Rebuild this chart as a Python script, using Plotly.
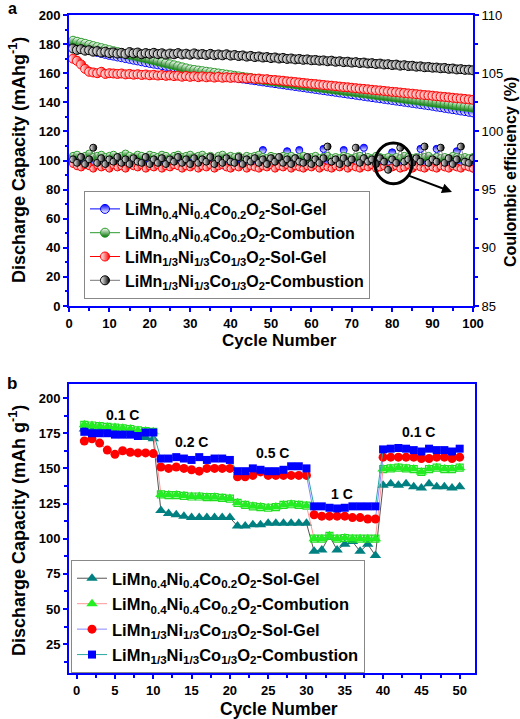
import plotly.graph_objects as go

# ---------------- data: panel a (cycling, 100 cycles) ----------------
cycles_a = list(range(1, 101))

cap_solgel_04 = [
    178.0, 177.5, 176.9, 176.4, 175.9, 175.2, 174.6, 174.0, 173.3, 172.6,
    172.1, 171.5, 171.0, 170.4, 169.9, 169.3, 168.8, 168.2, 167.6, 167.1,
    166.6, 166.1, 165.6, 165.1, 164.6, 164.1, 163.6, 163.1, 162.6, 162.1,
    161.6, 161.2, 160.7, 160.3, 159.8, 159.4, 158.9, 158.5, 158.0, 157.6,
    157.2, 156.8, 156.4, 156.0, 155.6, 155.2, 154.8, 154.4, 154.0, 153.6,
    153.2, 152.8, 152.4, 152.0, 151.6, 151.2, 150.8, 150.4, 150.0, 149.6,
    149.2, 148.8, 148.4, 148.0, 147.6, 147.2, 146.8, 146.4, 146.0, 145.6,
    145.2, 144.8, 144.4, 144.0, 143.6, 143.2, 142.8, 142.4, 142.0, 141.6,
    141.2, 140.8, 140.4, 140.0, 139.6, 139.2, 138.8, 138.4, 138.0, 137.6,
    137.1, 136.7, 136.2, 135.8, 135.3, 134.9, 134.4, 134.0, 133.5, 133.1]

cap_comb_04 = [
    182.3, 181.6, 180.9, 180.2, 179.4, 178.6, 177.9, 177.2, 176.5, 175.8,
    175.1, 174.5, 173.9, 173.3, 172.7, 172.1, 171.4, 170.8, 170.2, 169.6,
    168.9, 168.2, 167.5, 166.8, 166.1, 165.4, 164.7, 164.0, 163.3, 162.6,
    162.2, 161.8, 161.4, 161.0, 160.6, 160.2, 159.8, 159.4, 159.0, 158.6,
    158.2, 157.8, 157.4, 157.0, 156.6, 156.2, 155.8, 155.4, 155.0, 154.6,
    154.2, 153.9, 153.5, 153.1, 152.8, 152.4, 152.0, 151.7, 151.3, 150.9,
    150.6, 150.2, 149.8, 149.5, 149.1, 148.7, 148.4, 148.0, 147.6, 147.3,
    146.9, 146.5, 146.2, 145.8, 145.4, 145.1, 144.7, 144.3, 144.0, 143.6,
    143.2, 142.9, 142.5, 142.1, 141.8, 141.4, 141.0, 140.7, 140.3, 139.9,
    139.6, 139.2, 138.8, 138.5, 138.1, 137.7, 137.4, 137.0, 136.7, 136.3]

cap_solgel_13 = [
    170.0, 168.5, 166.0, 163.0, 161.0, 160.5, 160.0, 161.0, 159.5, 160.0,
    159.8, 159.5, 159.8, 159.2, 159.5, 159.0, 159.3, 158.8, 159.1, 158.6,
    158.9, 158.4, 158.7, 158.2, 158.5, 158.0, 158.3, 157.6, 158.1, 157.5,
    157.9, 157.3, 157.8, 157.2, 157.6, 157.0, 157.5, 156.9, 157.2, 156.8,
    157.1, 156.6, 156.9, 156.4, 156.6, 156.1, 156.3, 155.8, 155.9, 155.4,
    155.3, 155.0, 154.8, 154.4, 154.2, 153.9, 153.6, 153.3, 153.0, 152.7,
    152.5, 152.2, 151.9, 151.6, 151.4, 151.1, 150.8, 150.5, 150.3, 150.0,
    149.7, 149.4, 149.2, 148.9, 148.6, 148.3, 148.1, 147.8, 147.5, 147.2,
    147.0, 146.7, 146.4, 146.1, 145.9, 145.6, 145.3, 145.0, 144.8, 144.5,
    144.2, 143.9, 143.7, 143.4, 143.1, 142.8, 142.6, 142.3, 142.0, 141.7]

cap_comb_13 = [
    177.0, 176.0, 176.5, 175.5, 175.8, 174.8, 175.2, 174.2, 174.8, 173.8,
    174.3, 173.5, 174.0, 173.2, 174.5, 173.6, 174.2, 173.0, 173.8, 173.3,
    174.0, 173.1, 173.7, 172.8, 173.5, 173.0, 173.8, 172.9, 173.4, 172.7,
    173.6, 172.8, 173.2, 172.5, 173.3, 172.4, 172.9, 172.3, 173.0, 172.1,
    172.5, 171.8, 172.2, 171.4, 171.9, 171.1, 171.5, 170.8, 171.1, 170.4,
    170.8, 170.1, 170.5, 169.8, 170.1, 169.5, 169.8, 169.2, 169.5, 168.9,
    169.1, 168.6, 168.8, 168.2, 168.6, 167.9, 168.2, 167.6, 167.9, 167.3,
    167.6, 167.0, 167.3, 166.7, 166.9, 166.3, 166.6, 166.0, 166.2, 165.6,
    165.9, 165.2, 165.5, 164.9, 165.1, 164.5, 164.7, 164.1, 164.3, 163.8,
    163.9, 163.4, 163.6, 163.0, 163.2, 162.6, 162.8, 162.3, 162.4, 162.0]

ce_solgel_04 = [
    97.3, 97.5, 97.2, 97.4, 97.6, 97.3, 97.1, 97.4, 97.2, 97.5,
    97.3, 97.2, 97.5, 97.3, 97.1, 97.4, 97.6, 97.3, 97.2, 97.4,
    97.2, 97.5, 97.3, 97.2, 97.4, 97.6, 97.3, 97.1, 97.4, 97.3,
    97.5, 97.2, 97.3, 97.4, 97.2, 97.5, 97.3, 97.1, 97.4, 97.6,
    97.3, 97.2, 97.4, 97.3, 97.5, 97.2, 97.3, 98.4, 97.3, 97.2,
    97.4, 97.3, 97.2, 98.3, 97.4, 97.2, 98.4, 97.3, 97.2, 97.4,
    97.3, 97.2, 98.5, 97.3, 97.4, 97.2, 97.3, 98.4, 97.2, 97.3,
    97.4, 97.2, 98.6, 97.3, 97.2, 97.4, 97.3, 97.2, 97.4, 98.2,
    97.3, 97.2, 97.4, 97.3, 97.2, 97.4, 98.5, 97.3, 97.2, 97.4,
    98.5, 97.3, 97.2, 97.4, 97.3, 98.3, 97.2, 97.4, 97.3, 96.8]

ce_comb_04 = [
    97.9, 98.0, 97.8, 97.9, 98.1, 97.8, 97.9, 98.0, 97.8, 97.9,
    98.0, 97.8, 97.9, 98.1, 97.9, 97.8, 98.0, 97.9, 97.8, 98.0,
    97.9, 97.8, 98.0, 97.9, 97.7, 97.9, 98.0, 97.8, 97.9, 98.0,
    97.8, 97.9, 98.0, 97.8, 97.9, 97.7, 97.9, 98.0, 97.8, 97.9,
    97.8, 97.9, 97.7, 97.9, 97.8, 97.9, 98.0, 97.8, 97.7, 97.9,
    97.8, 97.7, 97.9, 97.8, 97.9, 97.7, 97.8, 97.9, 97.7, 97.8,
    97.9, 97.7, 97.8, 97.9, 97.7, 97.8, 97.7, 97.9, 97.8, 97.7,
    97.8, 97.9, 97.7, 97.8, 97.7, 97.9, 97.8, 97.7, 97.8, 97.7,
    97.8, 97.7, 97.9, 97.8, 97.7, 97.8, 97.7, 97.8, 97.9, 97.7,
    97.8, 97.7, 97.8, 97.7, 97.9, 97.8, 97.7, 97.8, 97.7, 97.8]

ce_solgel_13 = [
    97.2, 97.0, 96.9, 97.1, 97.0, 96.8, 97.1, 96.9, 97.0, 96.8,
    97.1, 96.9, 97.0, 96.8, 97.1, 97.0, 96.9, 97.1, 96.8, 97.0,
    96.9, 97.1, 96.8, 97.0, 96.9, 97.1, 97.0, 96.8, 97.0, 96.9,
    97.1, 96.8, 97.0, 96.9, 97.1, 96.8, 97.0, 97.1, 96.9, 96.8,
    97.0, 96.9, 97.1, 96.8, 97.0, 96.9, 96.8, 97.0, 96.9, 97.1,
    96.8, 97.0, 96.9, 97.1, 96.8, 97.0, 96.9, 96.8, 97.0, 96.9,
    97.1, 96.8, 97.0, 96.9, 96.8, 97.0, 96.9, 97.1, 96.8, 97.0,
    96.9, 96.8, 97.0, 96.9, 97.1, 96.8, 96.9, 97.0, 96.8, 96.9,
    97.0, 96.8, 96.9, 97.1, 96.8, 97.0, 96.9, 96.8, 97.0, 96.9,
    96.8, 97.0, 96.9, 96.8, 97.0, 96.9, 96.8, 97.0, 96.9, 96.8]

ce_comb_13 = [
    97.6, 97.3, 97.8, 97.2, 97.6, 98.6, 97.3, 97.7, 97.2, 97.6,
    97.4, 97.8, 97.3, 97.6, 97.2, 97.7, 97.4, 97.3, 97.8, 97.2,
    97.6, 97.3, 97.7, 97.2, 97.6, 97.4, 97.8, 97.3, 97.6, 97.2,
    97.7, 97.3, 97.6, 97.4, 97.8, 97.2, 97.6, 97.3, 97.7, 97.4,
    97.3, 97.8, 97.2, 97.6, 97.4, 97.7, 97.3, 97.6, 97.2, 97.7,
    97.4, 97.8, 97.3, 97.6, 97.2, 97.7, 97.4, 97.3, 97.8, 97.2,
    97.6, 97.3, 97.7, 98.7, 97.4, 97.6, 97.2, 97.7, 97.3, 97.6,
    98.6, 97.3, 97.7, 97.4, 97.6, 97.2, 97.7, 97.4, 96.7, 97.6,
    97.3, 98.6, 97.4, 97.6, 97.3, 97.7, 97.4, 98.7, 97.3, 97.6,
    97.4, 98.6, 97.3, 97.7, 97.2, 97.6, 98.7, 97.4, 97.3, 97.7]

# ---------------- data: panel b (rate capability, 50 cycles) ----------------
cycles_b = list(range(1, 51))

rate_solgel_04 = [
    178, 177, 177, 176, 176, 175, 175, 174, 172, 171,
    120, 118, 117, 116, 115, 115, 115, 115, 115, 115,
    109, 109, 110, 110, 111, 111, 111, 111, 111, 111,
    91, 92, 102, 92, 96, 98, 91, 96, 88,
    138, 139, 138, 139, 137, 136, 139, 137, 137, 136, 137]

rate_comb_04 = [
    181, 180.5, 180, 179.5, 179, 178.5, 178, 177, 176.5, 176,
    131.5, 131, 131, 130.5, 130, 130, 129.5, 129.5, 129, 128.5,
    125.5, 124, 123, 122.5, 122, 122.5, 124, 124.5, 124, 123.5,
    100, 100, 102, 100, 100.5, 100, 100, 100, 100,
    149.5, 150, 150.5, 150, 149.5, 147.5, 149.5, 150.5, 149.5, 149.5, 150.5]

rate_solgel_13 = [
    169.5, 171, 168, 163, 160, 162.5, 161.5, 161, 161, 160.5,
    151, 150, 151, 150, 149, 148, 150, 150, 150, 150,
    144, 144, 145, 147.5, 145, 145, 145, 145, 145, 145,
    117, 116, 116, 116, 116, 115, 115, 114, 114,
    158, 158, 158, 158, 158, 157, 157, 158, 158, 157, 158]

rate_comb_13 = [
    176, 175, 175, 175, 174, 174, 174, 173, 175.5, 175.5,
    157, 157, 158, 157, 156, 158, 156, 157, 157, 156,
    148, 148, 150, 149, 148, 148, 149, 151.5, 151.5, 150,
    123, 123, 122, 121.5, 122, 123, 123, 123, 123,
    163.5, 164, 164.5, 164, 163, 162, 164, 163, 163, 162, 164]

rate_labels = ["0.1 C", "0.2 C", "0.5 C", "1 C", "0.1 C"]
rate_label_x = [6, 15, 25.6, 34.6, 44.6]
rate_label_y = [188, 169, 161, 132, 175.6]

names = [
    "LiMn<sub>0.4</sub>Ni<sub>0.4</sub>Co<sub>0.2</sub>O<sub>2</sub>-Sol-Gel",
    "LiMn<sub>0.4</sub>Ni<sub>0.4</sub>Co<sub>0.2</sub>O<sub>2</sub>-Combution",
    "LiMn<sub>1/3</sub>Ni<sub>1/3</sub>Co<sub>1/3</sub>O<sub>2</sub>-Sol-Gel",
    "LiMn<sub>1/3</sub>Ni<sub>1/3</sub>Co<sub>1/3</sub>O<sub>2</sub>-Combustion",
]

FONT = "Arial, Liberation Sans, sans-serif"
AX = "#0000ff"

fig = go.Figure()

# ---------------- panel a traces ----------------
top_styles = [
    dict(line="#0000ff", fill="#0000ff", gtype="vertical", gcol="#ffffff"),
    dict(line="#2a9a2a", fill="#ffffff", gtype="vertical", gcol="#007000"),
    dict(line="#ff0000", fill="#ffffff", gtype="horizontal", gcol="#ff0000"),
    dict(line="#000000", fill="#ffffff", gtype="horizontal", gcol="#000000"),
]
line_cols_a = ["#0000ff", "#2a9a2a", "#ff0000", "#777777"]
caps = [cap_solgel_04, cap_comb_04, cap_solgel_13, cap_comb_13]
ces = [ce_solgel_04, ce_comb_04, ce_solgel_13, ce_comb_13]

for i in range(4):
    st = top_styles[i]
    mk = dict(symbol="circle", size=9, color=st["fill"],
              gradient=dict(type=st["gtype"], color=st["gcol"]),
              line=dict(color=st["line"], width=1))
    fig.add_trace(go.Scatter(
        x=cycles_a, y=caps[i], mode="lines+markers", name=names[i],
        marker=mk, line=dict(color=line_cols_a[i], width=1),
        xaxis="x", yaxis="y", legend="legend", legendgroup="a%d" % i))
for i in range(4):
    st = top_styles[i]
    mk = dict(symbol="circle", size=7, color=st["fill"],
              gradient=dict(type=st["gtype"], color=st["gcol"]),
              line=dict(color=st["line"], width=1))
    fig.add_trace(go.Scatter(
        x=cycles_a, y=ces[i], mode="lines+markers", name=names[i],
        marker=mk, line=dict(color=line_cols_a[i], width=0.8),
        xaxis="x", yaxis="y2", showlegend=False))

# ---------------- panel b traces ----------------
fig.add_trace(go.Scatter(
    x=cycles_b, y=rate_solgel_04, mode="lines+markers", name=names[0],
    marker=dict(symbol="triangle-up", size=10, color="#008080"),
    line=dict(color="#555555", width=1),
    xaxis="x2", yaxis="y3", legend="legend2", legendgroup="b0"))
fig.add_trace(go.Scatter(
    x=cycles_b, y=rate_comb_04, mode="markers", name=names[1],
    marker=dict(symbol="square-open", size=7, color="#22dd22", line=dict(width=1.2)),
    xaxis="x2", yaxis="y3", showlegend=False))
fig.add_trace(go.Scatter(
    x=cycles_b, y=rate_comb_04, mode="lines+markers", name=names[1],
    marker=dict(symbol="triangle-up", size=10, color="#22ee22"),
    line=dict(color="#ff9999", width=1),
    xaxis="x2", yaxis="y3", legend="legend2", legendgroup="b1"))
fig.add_trace(go.Scatter(
    x=cycles_b, y=rate_solgel_13, mode="lines+markers", name=names[2],
    marker=dict(symbol="circle", size=9, color="#ff0000"),
    line=dict(color="#8888ff", width=1),
    xaxis="x2", yaxis="y3", legend="legend2", legendgroup="b2"))
fig.add_trace(go.Scatter(
    x=cycles_b, y=rate_comb_13, mode="lines+markers", name=names[3],
    marker=dict(symbol="square", size=8, color="#0000ff"),
    line=dict(color="#2aa8a0", width=1),
    xaxis="x2", yaxis="y3", legend="legend2", legendgroup="b3"))

# ---------------- axes ----------------
tick_bold = dict(family=FONT, size=13, color="black", weight="bold")
common = dict(showline=True, linecolor=AX, linewidth=2, ticks="outside",
              ticklen=4, tickwidth=1.5, tickcolor=AX, showgrid=False,
              zeroline=False, automargin=False)

fig.update_layout(
    width=520, height=719, margin=dict(l=0, r=0, t=0, b=0, autoexpand=False),
    paper_bgcolor="white", plot_bgcolor="white",
    font=dict(family=FONT, color="black"),
    xaxis=dict(domain=[69/520, 473/520], range=[0, 100], dtick=10, anchor="y",
               mirror=True, tickfont=tick_bold,
               minor=dict(dtick=5, ticks="outside", ticklen=2.5, tickcolor=AX, tickwidth=1.5),
               **common),
    yaxis=dict(domain=[1-306/719, 1-15/719], range=[0, 200], dtick=20, anchor="x",
               tickfont=tick_bold,
               minor=dict(dtick=10, ticks="outside", ticklen=2.5, tickcolor=AX, tickwidth=1.5),
               **common),
    yaxis2=dict(overlaying="y", side="right", anchor="x", range=[85, 110], dtick=5,
                tickfont=dict(family=FONT, size=13, color="black"),
                minor=dict(dtick=2.5, ticks="outside", ticklen=2.5, tickcolor=AX, tickwidth=1.5),
                **common),
    xaxis2=dict(domain=[69/520, 475/520], range=[-1, 52], dtick=5, tick0=0, anchor="y3",
                mirror=True, tickfont=tick_bold,
                minor=dict(dtick=2.5, ticks="outside", ticklen=3, tickcolor=AX, tickwidth=1.5),
                **common),
    yaxis3=dict(domain=[1-673/719, 1-384/719], range=[4.5, 210], dtick=25, tick0=0,
                anchor="x2", mirror=True, tickfont=tick_bold,
                minor=dict(dtick=12.5, ticks="outside", ticklen=3, tickcolor=AX, tickwidth=1.5),
                **common),
    legend=dict(x=84/520, y=1-191/719, xanchor="left", yanchor="top",
                bgcolor="white", bordercolor="#888888", borderwidth=1,
                font=dict(family=FONT, size=16, color="black", weight="bold"),
                tracegroupgap=0),
    legend2=dict(x=71/520, y=1-560/719, xanchor="left", yanchor="top",
                 bgcolor="white", bordercolor="#888888", borderwidth=1,
                 font=dict(family=FONT, size=16.5, color="black", weight="bold"),
                 tracegroupgap=1),
)

# ---------------- annotations ----------------
ann = []
def txt(x, y, s, size, angle=0, bold=True):
    ann.append(dict(x=x, y=y, xref="paper", yref="paper", text=s, showarrow=False,
                    textangle=angle, xanchor="center", yanchor="middle",
                    font=dict(family=FONT, size=size, color="black",
                              weight="bold" if bold else "normal")))

txt(12/520, 1-8/719, "a", 16)
txt(12/520, 1-383/719, "b", 17)
txt(17/520, 1-160/719, "Discharge Capacity (mAhg<sup>-1</sup>)", 18, -90)
txt(510/520, 1-172/719, "Coulombic efficiency (%)", 16, -90)
txt(279/520, 1-340/719, "Cycle Number", 17)
txt(279/520, 1-709/719, "Cycle Number", 17.5)
txt(17/520, 1-531/719, "Discharge Capacity (mAh g<sup>-1</sup>)", 18, -90)

for s, xv, yv in zip(rate_labels, rate_label_x, rate_label_y):
    ann.append(dict(x=xv, y=yv, xref="x2", yref="y3", text=s, showarrow=False,
                    font=dict(family=FONT, size=14, color="black", weight="bold")))

# arrow pointing out of the highlighted region
ann.append(dict(x=94.8, y=94.8, xref="x", yref="y2", ax=83.7, ay=96.25,
                axref="x", ayref="y2", text="", showarrow=True, arrowhead=2,
                arrowsize=1, arrowwidth=2, arrowcolor="black"))
fig.update_layout(annotations=ann)

fig.add_shape(type="circle", xref="x", yref="y2", x0=75.7, x1=84.9, y0=95.5, y1=99.0,
              line=dict(color="black", width=3))

fig.write_html("out.html", config={"displayModeBar": False},
               post_script="document.body.style.margin='0px';document.body.style.overflow='hidden';")
